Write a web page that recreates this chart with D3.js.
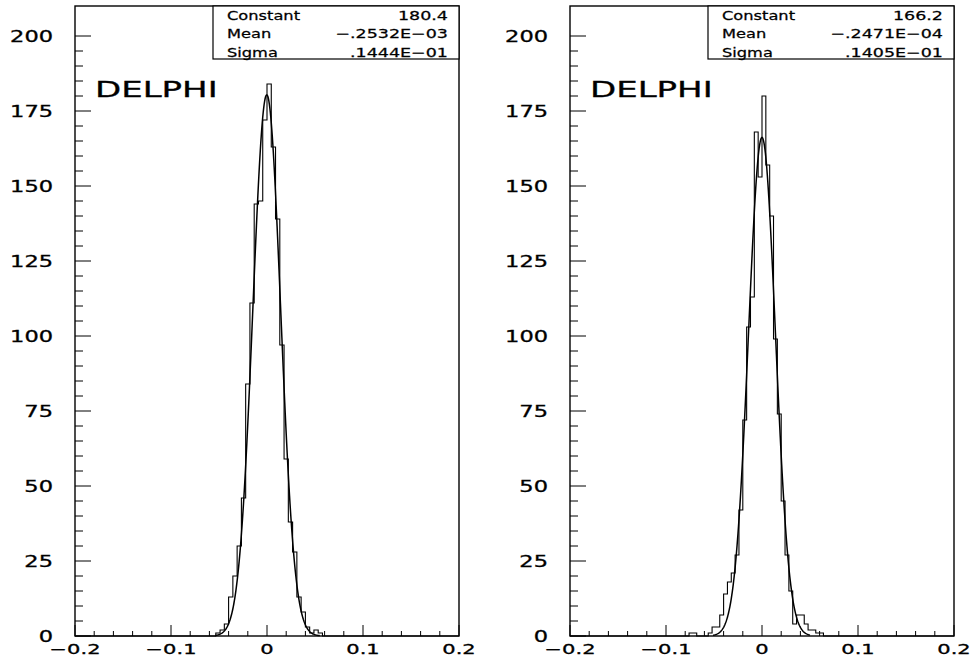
<!DOCTYPE html>
<html><head><meta charset="utf-8">
<script src="https://cdn.jsdelivr.net/npm/d3@7"></script>
<style>body{margin:0;background:#fff} svg{display:block}</style>
</head><body>
<svg id="c" width="977" height="663"></svg>
<script>
// ---------------- data ----------------
const xTickValues = [-0.2, -0.1, 0, 0.1, 0.2];
const xTickLabels = ["\u22120.2", "\u22120.1", "0", "0.1", "0.2"];
const yTickValues = [0, 25, 50, 75, 100, 125, 150, 175, 200];
const yTickLabels = ["0", "25", "50", "75", "100", "125", "150", "175", "200"];
const panelTitle = "DELPHI";
const statNames = ["Constant", "Mean", "Sigma"];

// left histogram: 90 bins on [-0.2, 0.2], counts from bin 33 on
const leftRange = [-0.2, 0.2];
const leftNBins = 90;
const leftFirstBin = 33;
const leftCounts = [1, 2, 4, 13, 20, 30, 46, 84, 111, 144, 145, 172, 184, 163, 139, 97, 59, 38, 28, 13, 8, 3, 1, 2, 1];
const leftFit = [180.4, -0.2532e-3, 0.1444e-1];
const leftFitRange = [-0.054, 0.055];
const leftStatText = ["180.4", "\u2212.2532E\u221203", ".1444E\u221201"];

// right histogram: 100 bins on [-0.2, 0.2], counts from bin 31 on
const rightRange = [-0.2, 0.2];
const rightNBins = 100;
const rightFirstBin = 31;
const rightCounts = [1, 1, 0, 0, 0, 1, 3, 3, 7, 14, 18, 21, 27, 42, 72, 103, 113, 168, 153, 180, 157, 140, 99, 74, 45, 27, 15, 4, 7, 7, 4, 2, 2, 1, 1];
const rightFit = [166.2, -0.2471e-4, 0.1405e-1];
const rightFitRange = [-0.051, 0.05];
const rightStatText = ["166.2", "\u2212.2471E\u221204", ".1405E\u221201"];

// ---------------- drawing ----------------
const svg = d3.select("#c");
const FONT = "'DejaVu Sans', sans-serif";

function stretchedText(g, x, y, str, size, sx, anchor, sw) {
  return g.append("text")
    .attr("transform", `translate(${x},${y}) scale(${sx},1)`)
    .attr("text-anchor", anchor)
    .attr("font-family", FONT)
    .attr("font-size", size)
    .attr("fill", "#000")
    .attr("stroke", "#000")
    .attr("stroke-width", sw)
    .text(str);
}

function panel(opt) {
  const g = svg.append("g");
  const x = d3.scaleLinear().domain([-0.2, 0.2]).range([opt.x0, opt.x1]);
  const y = d3.scaleLinear().domain([0, 210]).range([636, 6]);

  // x axis ticks (inside, upward)
  const xMinor = d3.range(-10, 11).map(i => i * 0.02);
  g.append("g").selectAll("line").data(xMinor).join("line")
    .attr("x1", d => x(d)).attr("x2", d => x(d))
    .attr("y1", y(0)).attr("y2", d => y(0) - (Math.abs(Math.round(d * 100) % 10) === 0 ? 11 : 5))
    .attr("stroke", "#000").attr("stroke-width", 1);
  // y axis ticks (inside, rightward)
  const yMinor = d3.range(0, 41).map(i => i * 5);
  g.append("g").selectAll("line").data(yMinor).join("line")
    .attr("x1", x(-0.2)).attr("x2", d => x(-0.2) + (d % 25 === 0 ? 16 : 8))
    .attr("y1", d => y(d)).attr("y2", d => y(d))
    .attr("stroke", "#000").attr("stroke-width", 1);

  // tick labels
  xTickValues.forEach((v, i) => stretchedText(g, x(v), 654, xTickLabels[i], 14, 1.5, "middle", 0.3));
  yTickValues.forEach((v, i) => stretchedText(g, opt.x0 - 22, y(v) + 5.5, yTickLabels[i], 15, 1.5, "end", 0.3));

  // histogram outline
  const w = (opt.range[1] - opt.range[0]) / opt.nBins;
  const counts = d3.range(opt.nBins).map(i => {
    const j = i - opt.first;
    return (j >= 0 && j < opt.counts.length) ? opt.counts[j] : 0;
  });
  const pts = [[opt.range[0], 0]];
  counts.forEach((c, i) => pts.push([opt.range[0] + i * w, c]));
  pts.push([opt.range[1], counts[counts.length - 1]]);
  pts.push([opt.range[1], 0]);
  const step = d3.line().x(d => x(d[0])).y(d => y(d[1])).curve(d3.curveStepAfter);
  g.append("path").attr("d", step(pts)).attr("fill", "none")
    .attr("stroke", "#000").attr("stroke-width", 1.1);

  // gaussian fit
  const [C, mu, s] = opt.fit;
  const xs = d3.range(opt.fitRange[0], opt.fitRange[1] + 1e-9, 0.0005);
  const fitLine = d3.line().x(d => x(d)).y(d => y(C * Math.exp(-0.5 * ((d - mu) / s) ** 2)));
  g.append("path").attr("d", fitLine(xs)).attr("fill", "none")
    .attr("stroke", "#000").attr("stroke-width", 1.5);

  // frame
  g.append("rect").attr("x", opt.x0).attr("y", 6).attr("width", opt.x1 - opt.x0).attr("height", 630)
    .attr("fill", "none").attr("stroke", "#000").attr("stroke-width", 1.4);

  // stats box
  const bx0 = opt.x1 - 246;
  g.append("rect").attr("x", bx0).attr("y", 6).attr("width", 246).attr("height", 53)
    .attr("fill", "#fff").attr("stroke", "#000").attr("stroke-width", 1.2);
  const rows = [19.5, 38, 56.5];
  statNames.forEach((n, i) => {
    stretchedText(g, bx0 + 14, rows[i], n, 12.5, 1.3, "start", 0.25);
    stretchedText(g, opt.x1 - 11, rows[i], opt.stats[i], 12.5, 1.4, "end", 0.25);
  });

  // title
  stretchedText(g, opt.x0 + 20, 97, panelTitle, 21, 1.62, "start", 0.3);
}

panel({x0: 75, x1: 459, range: leftRange, nBins: leftNBins, first: leftFirstBin, counts: leftCounts,
       fit: leftFit, fitRange: leftFitRange, stats: leftStatText});
panel({x0: 570, x1: 954, range: rightRange, nBins: rightNBins, first: rightFirstBin, counts: rightCounts,
       fit: rightFit, fitRange: rightFitRange, stats: rightStatText});
</script>
</body></html>
